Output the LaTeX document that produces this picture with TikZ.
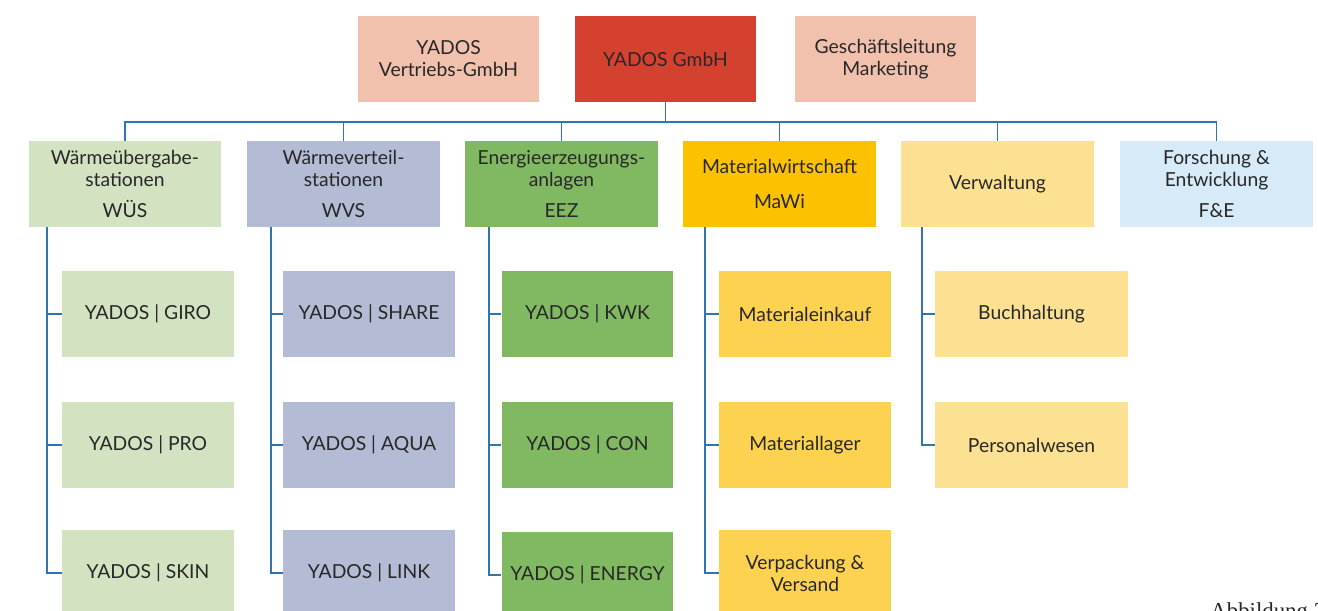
\documentclass[tikz,border=0pt]{standalone}
\usepackage{fontspec}
\setmainfont{Lato}
\newfontfamily\capfont{Liberation Serif}
\usetikzlibrary{positioning, calc}
\definecolor{topsalmon}{RGB}{241, 193, 174}
\definecolor{headred}{RGB}{212, 65, 46}
\definecolor{wuesgreen}{RGB}{211, 226, 193}
\definecolor{wvsblue}{RGB}{179, 187, 213}
\definecolor{eezgreen}{RGB}{129, 185, 98}
\definecolor{mawiyellow}{RGB}{252, 193, 0}
\definecolor{mawisub}{RGB}{253, 210, 80}
\definecolor{verwyellow}{RGB}{253, 225, 146}
\definecolor{feblue}{RGB}{214, 234, 248}
\definecolor{linkblue}{RGB}{46, 117, 182}
\definecolor{textgray}{RGB}{40, 40, 40}
\tikzset{
  orgbox/.style={minimum width=3.62cm, minimum height=1.72cm, inner sep=1pt, align=center,
    text=textgray, font=\fontsize{11}{12.5}\selectfont},
  unitbox/.style={orgbox, minimum width=3.86cm},
  subbox/.style={orgbox, minimum width=3.44cm},
  orgline/.style={linkblue, line width=1pt},
}

\begin{document}
\begin{tikzpicture}[x=0.02cm, y=-0.02cm]
  \useasboundingbox (0, 0) rectangle (1318, 610);

  % Top level
  \node[orgbox, fill=topsalmon] (vertrieb) at (448.5, 59) {YADOS\\Vertriebs-GmbH};
  \node[orgbox, fill=headred] (gmbh) at (665.5, 59) {YADOS GmbH};
  \node[orgbox, fill=topsalmon] (leitung) at (885.5, 59) {Geschäftsleitung\\Marketing};

  % Departments
  \node[unitbox, fill=wuesgreen] (wues) at (125, 184) {Wärmeübergabe-\\stationen\\[5pt]WÜS};
  \node[unitbox, fill=wvsblue] (wvs) at (343.5, 184) {Wärmeverteil-\\stationen\\[5pt]WVS};
  \node[unitbox, fill=eezgreen] (eez) at (561.5, 184) {Energieerzeugungs-\\anlagen\\[5pt]EEZ};
  \node[unitbox, fill=mawiyellow] (mawi) at (779.5, 184) {Materialwirtschaft\\[7pt]MaWi};
  \node[unitbox, fill=verwyellow] (verw) at (997.5, 184) {Verwaltung};
  \node[unitbox, fill=feblue] (fue) at (1216.5, 184) {Forschung \&\\Entwicklung\\[5pt]F\&E};

  % Bus
  \coordinate (bus) at (0, 122);
  \draw[orgline] (gmbh.south) -- (gmbh.south |- bus);
  \draw[orgline] (wues.north) -- (wues.north |- bus) -| (fue.north);
  \foreach \n in {wvs, eez, mawi, verw} {
    \draw[orgline] (\n.north) -- (\n.north |- bus);
  }

  % Sub units
  \node[subbox, fill=wuesgreen] (giro) at (148, 314) {YADOS | GIRO};
  \node[subbox, fill=wuesgreen] (pro) at (148, 445) {YADOS | PRO};
  \node[subbox, fill=wuesgreen] (skin) at (148, 573) {YADOS | SKIN};

  \node[subbox, fill=wvsblue] (share) at (369, 314) {YADOS | SHARE};
  \node[subbox, fill=wvsblue] (aqua) at (369, 445) {YADOS | AQUA};
  \node[subbox, fill=wvsblue] (link) at (369, 573) {YADOS | LINK};

  \node[subbox, fill=eezgreen] (kwk) at (587.5, 314) {YADOS | KWK};
  \node[subbox, fill=eezgreen] (con) at (587.5, 445) {YADOS | CON};
  \node[subbox, fill=eezgreen] (energy) at (587.5, 575) {YADOS | ENERGY};

  \node[subbox, fill=mawisub] (einkauf) at (805, 314) {Materialeinkauf};
  \node[subbox, fill=mawisub] (lager) at (805, 445) {Materiallager};
  \node[subbox, fill=mawisub] (versand) at (805, 573) {Verpackung \&\\Versand};

  \node[unitbox, fill=verwyellow] (buch) at (1031.5, 314) {Buchhaltung};
  \node[unitbox, fill=verwyellow] (personal) at (1031.5, 445) {Personalwesen};

  % Trunks
  \coordinate (t1) at (47, 0);
  \coordinate (t2) at (271, 0);
  \coordinate (t3) at (489, 0);
  \coordinate (t4) at (705, 0);
  \coordinate (t5) at (922, 0);
  \draw[orgline] (wues.south -| t1) |- (skin.west);
  \draw[orgline] (wvs.south -| t2) |- (link.west);
  \draw[orgline] (eez.south -| t3) |- (energy.west);
  \draw[orgline] (mawi.south -| t4) |- (versand.west);
  \draw[orgline] (verw.south -| t5) |- (personal.west);
  \foreach \n/\t in {giro/t1, pro/t1, share/t2, aqua/t2, kwk/t3, con/t3,
                     einkauf/t4, lager/t4, buch/t5} {
    \draw[orgline] (\n.west) -- (\n.west -| \t);
  }

  \node[anchor=north west, inner sep=0, font=\capfont\fontsize{13}{15}\selectfont, text=textgray]
    (caption) at (1210, 602) {Abbildung 2};
\end{tikzpicture}
\end{document}
